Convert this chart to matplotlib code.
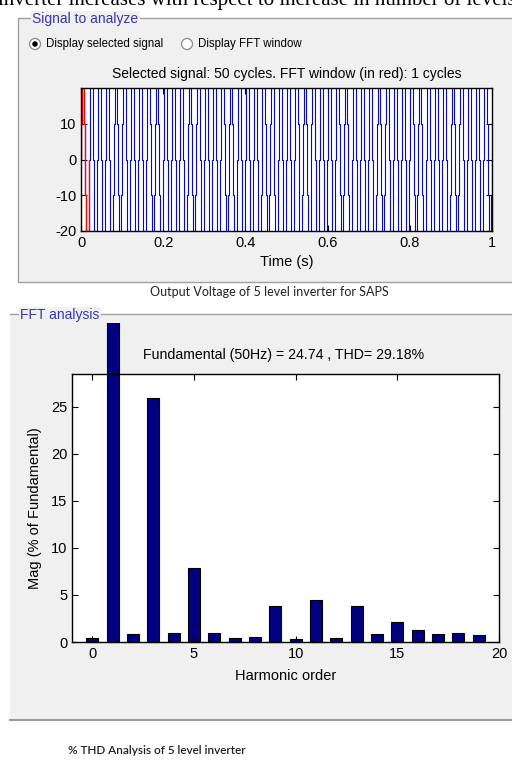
import numpy as np
import matplotlib
matplotlib.use("Agg")
import matplotlib.pyplot as plt
from matplotlib.patches import Rectangle, Ellipse
from matplotlib.lines import Line2D

W, H = 512, 760
MATLAB_FONT = ["Liberation Sans Narrow", "Liberation Sans", "DejaVu Sans"]
plt.rcParams["font.family"] = MATLAB_FONT
plt.rcParams["axes.unicode_minus"] = False   # MATLAB draws a plain hyphen

# --- time-domain signal: one period of the 5-level staircase, repeated for 50 cycles
N_CYCLES = 50
PERIOD = 0.02                       # s (50 Hz)
STEP_FRAC = [0.0, 0.04, 0.08, 0.42, 0.46, 0.54, 0.58, 0.92, 0.96, 1.0]
STEP_LEVEL = [0, 10, 20, 10, 0, -10, -20, -10, 0]
FFT_WINDOW_CYCLES = 1

# --- FFT analysis
HARMONIC_ORDER = list(range(20))
MAG_PCT = [0.45, 100, 0.9, 26.0, 1.0, 7.9, 1.0, 0.45, 0.55, 3.8,
           0.3, 4.5, 0.45, 3.8, 0.9, 2.1, 1.25, 0.9, 1.0, 0.75]
FUND_HZ = 50
FUND_MAG = 24.74
THD_PCT = 29.18

BLUE_LABEL = "#3535b5"
PANEL_BG = "#f0f0f0"


def fx(px):
    return px / W


def fy(py):
    return 1 - py / H


def ax_rect(left, top, right, bottom):
    return [fx(left), fy(bottom), (right - left) / W, (bottom - top) / H]


def staircase(n_cycles):
    t, v = [], []
    for k in range(n_cycles):
        for i, lvl in enumerate(STEP_LEVEL):
            t += [k * PERIOD + STEP_FRAC[i] * PERIOD, k * PERIOD + STEP_FRAC[i + 1] * PERIOD]
            v += [lvl, lvl]
    return np.array(t), np.array(v)


def matlab_axes(ax):
    ax.set_facecolor("white")
    ax.tick_params(direction="in", top=True, right=True, length=4, width=0.8,
                   labelsize=10.5, colors="black")
    for s in ax.spines.values():
        s.set_linewidth(1.0)
        s.set_color("black")


fig = plt.figure(figsize=(W / 100, H / 100), dpi=100)
fig.patch.set_facecolor("white")

# clipped line of body text at the very top (cut off in the source image too)
fig.text(fx(-2), fy(5), "inverter increases with respect to increase in number of levels",
         family="Liberation Serif", fontsize=15, va="baseline", ha="left")

# ---------------- panel 1: Signal to analyze ----------------
fig.add_artist(Rectangle((fx(18), fy(282)), (W - 18 + 5) / W, (282 - 18) / H,
                         transform=fig.transFigure, facecolor=PANEL_BG,
                         edgecolor="#a0a0a0", linewidth=1.0, zorder=-10))
fig.text(fx(32), fy(19), "Signal to analyze", fontsize=10, color=BLUE_LABEL,
         va="center", ha="left",
         bbox=dict(facecolor=PANEL_BG, edgecolor="none", pad=1))

# radio buttons
for cx, label, sel in [(35, "Display selected signal", True), (187, "Display FFT window", False)]:
    fig.add_artist(Ellipse((fx(cx), fy(44)), 11 / W, 11 / H, transform=fig.transFigure,
                           facecolor="white", edgecolor="#8a8a8a", linewidth=0.9))
    if sel:
        fig.add_artist(Ellipse((fx(cx), fy(44)), 5.5 / W, 5.5 / H, transform=fig.transFigure,
                               facecolor="black", edgecolor="none"))
    fig.text(fx(cx + 11), fy(44), label, fontsize=8.3, va="center", ha="left")

ax1 = fig.add_axes(ax_rect(81, 88, 492, 231))
t, v = staircase(N_CYCLES)
ax1.plot(t, v, color="#0000ff", linewidth=0.8)
tw, vw = staircase(FFT_WINDOW_CYCLES)
ax1.plot(tw, vw, color="#ff0000", linewidth=1.0)
ax1.set_xlim(0, N_CYCLES * PERIOD)
ax1.set_ylim(-20, 20)
ax1.set_yticks([-20, -10, 0, 10])
ax1.set_xticks([0, 0.2, 0.4, 0.6, 0.8, 1.0])
ax1.set_xticklabels(["0", "0.2", "0.4", "0.6", "0.8", "1"])
matlab_axes(ax1)
ax1.set_xlabel("Time (s)", fontsize=10.5, labelpad=4)
ax1.set_title(f"Selected signal: {N_CYCLES} cycles. FFT window (in red): "
              f"{FFT_WINDOW_CYCLES} cycles", fontsize=10, pad=7)

fig.text(fx(269), fy(292), "Output Voltage of 5 level inverter for SAPS",
         family="Lato", fontsize=9, ha="center", va="center", color="#222222")

# ---------------- panel 2: FFT analysis ----------------
fig.add_artist(Rectangle((fx(10), fy(720)), (W - 10 + 5) / W, (720 - 314) / H,
                         transform=fig.transFigure, facecolor=PANEL_BG,
                         edgecolor="none", zorder=-10))
fig.add_artist(Line2D([fx(10), 1], [fy(314), fy(314)], transform=fig.transFigure,
                      color="#a0a0a0", linewidth=1.0, zorder=-9))
fig.add_artist(Line2D([fx(10), 1], [fy(720), fy(720)], transform=fig.transFigure,
                      color="#9a9a9a", linewidth=1.5, zorder=-9))
fig.text(fx(20), fy(315), "FFT analysis", fontsize=10, color=BLUE_LABEL,
         va="center", ha="left",
         bbox=dict(facecolor=PANEL_BG, edgecolor="none", pad=1))

ax2 = fig.add_axes(ax_rect(72, 374, 499, 642))
bars = ax2.bar(HARMONIC_ORDER, MAG_PCT, width=0.6, color="#000080",
               edgecolor="black", linewidth=0.8)
# the fundamental (100 %) runs past the axes and is cut by the panel edge
clip = Rectangle((0, 0), 1, fy(323), transform=fig.transFigure)
for b in bars:
    b.set_clip_path(clip)
ax2.set_xlim(-1, 20)
ax2.set_ylim(0, 28.5)
ax2.set_xticks([0, 5, 10, 15, 20])
ax2.set_yticks([0, 5, 10, 15, 20, 25])
matlab_axes(ax2)
ax2.set_xlabel("Harmonic order", fontsize=10.5, labelpad=6)
ax2.set_ylabel("Mag (% of Fundamental)", fontsize=10.5, labelpad=6)
fig.text(fx(284), fy(355), f"Fundamental ({FUND_HZ}Hz) = {FUND_MAG} , THD= {THD_PCT}%",
         fontsize=10.2, ha="center", va="center")

fig.text(fx(68), fy(751), "% THD Analysis of 5 level inverter",
         family="Lato", fontsize=8.5, fontweight="semibold", ha="left", va="center",
         color="#222222")

fig.savefig("out.png", dpi=100)
